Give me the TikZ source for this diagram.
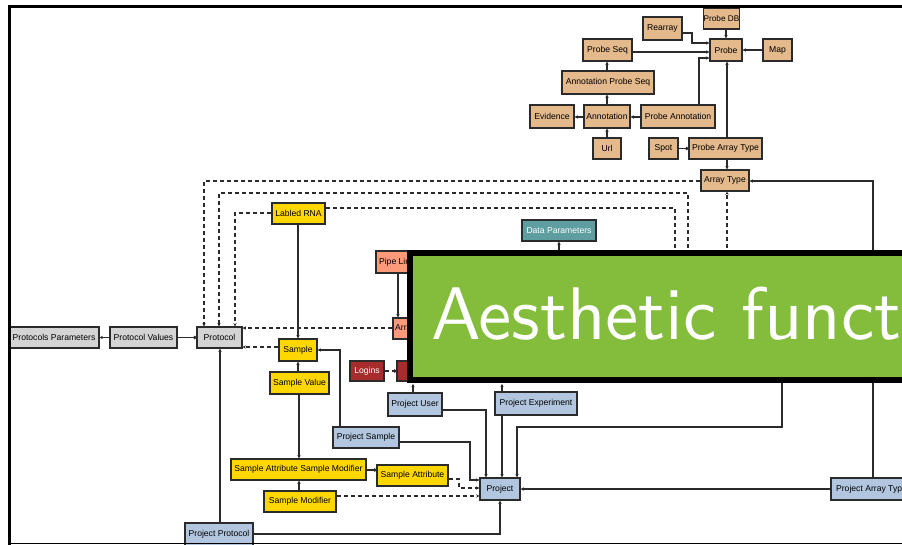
\documentclass[tikz,border=0pt]{standalone}
\usepackage{fontspec}
\newfontfamily\boxfont{Liberation Sans}
\newfontfamily\titlefont{lmsans10-regular.otf}
\usetikzlibrary{arrows.meta}
\definecolor{tanc}{HTML}{E4B98C}
\definecolor{greyc}{HTML}{D4D4D4}
\definecolor{yellowc}{HTML}{FFD700}
\definecolor{bluec}{HTML}{B2C6DF}
\definecolor{salmonc}{HTML}{FA9A78}
\definecolor{redc}{HTML}{A82C2C}
\definecolor{tealc}{HTML}{5F9EA0}
\definecolor{greenc}{HTML}{84BC3C}
\definecolor{linec}{HTML}{2B2B2B}
\newcommand\bx[7]{%
  \pgfmathsetmacro\bw{#5-#3}\pgfmathsetmacro\bh{#6-#4}%
  \pgfmathsetmacro\cx{(#3+#5)/2}\pgfmathsetmacro\cy{(#4+#6)/2}%
  \node[#1, minimum width=\bw pt, minimum height=\bh pt] (#2) at (\cx,\cy) {#7};}
\tikzset{
  boxbase/.style={draw=linec, line width=1.3pt, inner sep=0.5pt, font=\boxfont\fontsize{8.6}{9}\selectfont, text=black},
  tanbox/.style={boxbase, fill=tanc},
  greybox/.style={boxbase, fill=greyc},
  yelbox/.style={boxbase, fill=yellowc},
  bluebox/.style={boxbase, fill=bluec},
  salbox/.style={boxbase, fill=salmonc},
  redbox/.style={boxbase, fill=redc, text=white},
  tealbox/.style={boxbase, fill=tealc, text=white},
  conn/.style={draw=linec, line width=1.1pt},
  dconn/.style={conn, dash pattern=on 4pt off 3pt},
  arr/.style={-{Stealth[length=3.2pt,width=3.4pt]}},
  dotarr/.style={-{Circle[length=3.2pt]}},
}
\begin{document}
\begin{tikzpicture}[x=1pt,y=-1pt]
\useasboundingbox (0,0) rectangle (902,545);
\clip (0,0) rectangle (902,545);
\fill[white] (0,0) rectangle (902,545);
% tan boxes
\bx{tanbox,font=\boxfont\fontsize{8.2}{9}\selectfont}{probedb}{704}{8}{739}{29}{Probe DB}
\bx{tanbox}{rearray}{643}{17}{682}{40}{Rearray}
\bx{tanbox}{probe}{710}{39}{742}{61}{Probe}
\bx{tanbox}{map}{763}{39}{792}{61}{Map}
\bx{tanbox}{probeseq}{583}{39}{632}{61}{Probe Seq}
\bx{tanbox}{annprobeseq}{562}{71}{654}{94}{Annotation Probe Seq}
\bx{tanbox}{evidence}{530}{105}{574}{128}{Evidence}
\bx{tanbox}{annotation}{584}{105}{630}{128}{Annotation}
\bx{tanbox}{probeann}{641}{105}{715}{128}{Probe Annotation}
\bx{tanbox}{url}{593}{138}{621}{159}{Url}
\bx{tanbox}{spot}{649}{138}{678}{159}{Spot}
\bx{tanbox}{probearraytype}{689}{138}{762}{159}{Probe Array Type}
\bx{tanbox}{arraytype}{701}{170}{749}{191}{Array Type}
% grey
\bx{greybox}{protparams}{9}{327}{99}{348}{Protocols Parameters}
\bx{greybox}{protvalues}{110}{327}{177}{348}{Protocol Values}
\bx{greybox}{protocol}{197}{327}{242}{348}{Protocol}
% yellow
\bx{yelbox}{labledrna}{272}{203}{325}{224}{Labled RNA}
\bx{yelbox}{sample}{279}{339}{317}{361}{Sample}
\bx{yelbox}{samplevalue}{270}{372}{329}{394}{Sample Value}
\bx{yelbox}{sasm}{231}{459}{366}{480}{Sample Attribute Sample Modifier}
\bx{yelbox}{samplemod}{264}{491}{336}{512}{Sample Modifier}
\bx{yelbox}{sampleattr}{377}{465}{448}{486}{Sample Attribute}
% blue
\bx{bluebox}{projuser}{388}{393}{442}{416}{Project User}
\bx{bluebox}{projexp}{495}{392}{577}{415}{Project Experiment}
\bx{bluebox}{projsample}{333}{427}{399}{448}{Project Sample}
\bx{bluebox}{project}{480}{478}{520}{500}{Project}
\bx{bluebox}{projprotocol}{185}{523}{253}{546}{Project Protocol}
\bx{bluebox}{projarraytype}{831}{478}{912}{500}{Project Array Type}
% salmon, red, teal
\bx{salbox}{pipe}{376}{251}{418}{273}{Pipe Line}
\bx{salbox}{arr}{393}{318}{418}{339}{Array}
\bx{redbox}{logins}{350}{361}{384}{381}{Logins}
\bx{redbox}{user}{397}{361}{420}{381}{}
\bx{tealbox}{dataparams}{522}{220}{596}{241}{Data Parameters}
% hidden ends under the overlay
\coordinate (hA) at (688,262);
\coordinate (hB) at (675,262);
\coordinate (hC) at (727,262);
\coordinate (hD) at (559,262);
\coordinate (hE) at (413,384);
\coordinate (hF) at (782,372);
\coordinate (hG) at (502,384);
% tan connectors
\draw[conn,arr] (726,0 |- probedb.south) -- (726,0 |- probe.north);
\draw[conn,arr] (rearray.east |- 0,33) -| (692,43) -- (probe.west |- 0,43);
\draw[conn,arr] (probeseq.east |- 0,52) -- (probe.west |- 0,52);
\draw[conn,arr] (map.west |- 0,50) -- (probe.east |- 0,50);
\draw[conn,arr] (699,0 |- probeann.north) |- (probe.west |- 0,58);
\draw[conn,arr] (727,0 |- probearraytype.north) -- (727,0 |- probe.south);
\draw[conn,arr] (607,0 |- annprobeseq.north) -- (607,0 |- probeseq.south);
\draw[conn,arr] (607,0 |- annotation.north) -- (607,0 |- annprobeseq.south);
\draw[conn,arr] (probeann.west |- 0,117) -- (annotation.east |- 0,117);
\draw[conn,arr] (annotation.west |- 0,117) -- (evidence.east |- 0,117);
\draw[conn,arr] (607,0 |- url.north) -- (607,0 |- annotation.south);
\draw[conn,dotarr] (spot.east) -- (probearraytype.west |- spot.east);
\draw[conn,arr] (727,0 |- probearraytype.south) -- (727,0 |- arraytype.north);
\draw[conn,arr] (873,0 |- projarraytype.north) |- (arraytype.east |- 0,181);
% dashed connectors to Protocol
\draw[dconn,arr] (arraytype.west |- 0,181) -| (204,0 |- protocol.north);
\draw[dconn,arr] (hA) |- (219,193) -- (219,0 |- protocol.north);
\draw[dconn] (labledrna.east |- 0,208) -| (hB);
\draw[dconn,arr] (labledrna.west |- 0,213) -| (235,0 |- protocol.north);
\draw[dconn,arr] (hC) -- (727,0 |- arraytype.south);
\draw[conn,arr] (hD) -- (559,0 |- dataparams.south);
\draw[conn,arr] (398,0 |- pipe.south) -- (398,0 |- arr.north);
\draw[dconn,arr] (arr.west |- 0,328) -- (protocol.east |- 0,328);
\draw[dconn,arr] (sample.west |- 0,347) -- (protocol.east |- 0,347);
\draw[conn,arr] (protvalues.west) -- (protparams.east);
\draw[conn,dotarr] (protvalues.east) -- (protocol.west);
% sample connectors
\draw[conn,arr] (298,0 |- labledrna.south) -- (298,0 |- sample.north);
\draw[conn,arr] (298,0 |- samplevalue.north) -- (298,0 |- sample.south);
\draw[conn,arr] (299,0 |- samplevalue.south) -- (299,0 |- sasm.north);
\draw[conn,arr] (299,0 |- samplemod.north) -- (299,0 |- sasm.south);
\draw[conn,dotarr] (sasm.east |- 0,470) -- (sampleattr.west |- 0,470);
\draw[dconn,arr] (sampleattr.east |- 0,479) -| (459,488) -- (project.west |- 0,488);
\draw[dconn,arr] (samplemod.east |- 0,496) -- (project.west |- 0,496);
% project connectors
\draw[conn,arr] (340,0 |- projsample.north) |- (sample.east |- 0,350);
\draw[conn,arr] (projsample.east |- 0,442) -| (470,480) -- (project.west |- 0,480);
\draw[conn,arr] (413,0 |- projuser.north) -- (hE);
\draw[conn,arr] (projuser.east |- 0,410) -| (486,0 |- project.north);
\draw[conn,arr] (502,0 |- projexp.north) -- (hG);
\draw[conn,arr] (502,0 |- projexp.south) -- (502,0 |- project.north);
\draw[conn,arr] (hF) |- (517,427) -- (517,0 |- project.north);
\draw[conn,arr] (projarraytype.west |- 0,489) -- (project.east |- 0,489);
\draw[conn,arr] (220,0 |- projprotocol.north) -- (220,0 |- protocol.south);
\draw[conn,arr] (projprotocol.east |- 0,534) -| (500,0 |- project.south);
\draw[dconn,dotarr] (logins.east) -- (user.west |- logins.east);
% overlay
\fill[black] (407,250) rectangle (912,383);
\fill[greenc] (413,256) rectangle (912,377);
\node[anchor=base west, inner sep=0, text=white, font=\titlefont\fontsize{74.5}{80}\selectfont] (title) at (431,339) {Aesthetic functions};
% frame
\draw[black, line width=3pt] (7.5,6.5) -- (902,6.5);
\draw[black, line width=3pt] (9,5) -- (9,545);
\draw[black, line width=1.2pt] (8,543.5) -- (902,543.5);
\end{tikzpicture}
\end{document}
